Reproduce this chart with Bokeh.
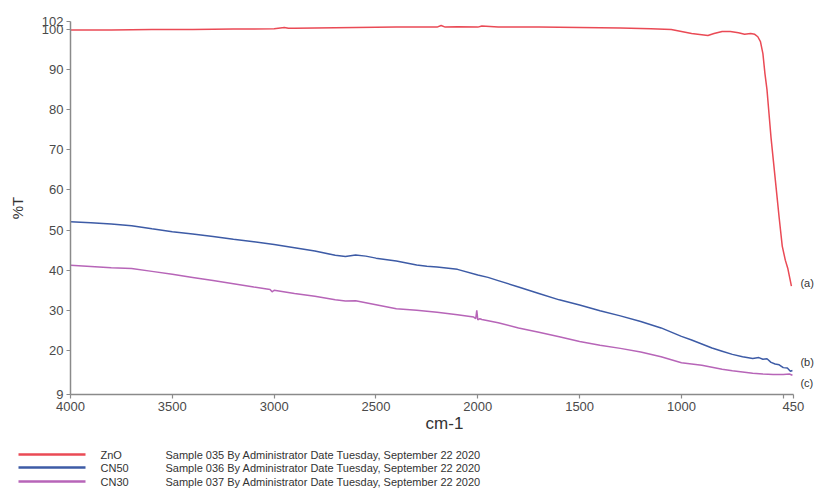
from bokeh.plotting import figure
from bokeh.models import Range1d, FixedTicker, ColumnDataSource
from bokeh.embed import file_html
from bokeh.resources import INLINE
from bokeh.core.properties import value

FONT = "Liberation Sans"

# ---------------- data ----------------
zno_x = [4000, 3800, 3600, 3400, 3200, 3000, 2950, 2930, 2900, 2800, 2600, 2400, 2200, 2180,
         2160, 2100, 2000, 1980, 1900, 1700, 1500, 1300, 1150, 1050, 1000, 950, 900, 870, 840,
         800, 760, 720, 690, 660, 640, 625, 612, 600, 590, 580, 570, 560, 548, 536, 520, 505,
         490, 478, 468, 460]
zno_y = [99.9, 99.9, 100.0, 100.0, 100.1, 100.2, 100.5, 100.3, 100.3, 100.4, 100.5, 100.6, 100.6, 101.0,
         100.6, 100.7, 100.6, 100.9, 100.6, 100.6, 100.5, 100.4, 100.2, 100.0, 99.5, 99.0, 98.7, 98.5, 99.0,
         99.5, 99.5, 99.2, 98.8, 99.0, 98.8, 98.2, 97.0, 94.0, 89.0, 85.0, 79.0, 73.0, 67.0, 61.0, 53.0, 46.0,
         42.5, 40.5, 38.0, 36.0]

cn50_x = [4000, 3900, 3800, 3700, 3600, 3500, 3400, 3300, 3200, 3100, 3000, 2900, 2800, 2700,
          2650, 2600, 2550, 2500, 2400, 2300, 2250, 2200, 2100, 2000, 1950, 1900, 1800, 1700,
          1600, 1500, 1400, 1300, 1200, 1100, 1000, 950, 900, 850, 800, 750, 700, 650, 620,
          600, 580, 560, 540, 520, 500, 480, 465, 455]
cn50_y = [52.1, 51.8, 51.5, 51.1, 50.3, 49.6, 49.0, 48.4, 47.7, 47.1, 46.4, 45.6, 44.8, 43.7,
          43.4, 43.8, 43.5, 43.0, 42.3, 41.3, 41.0, 40.8, 40.2, 38.8, 38.2, 37.4, 35.8, 34.2,
          32.6, 31.3, 29.9, 28.6, 27.2, 25.6, 23.5, 22.6, 21.6, 20.6, 19.8, 19.0, 18.4, 18.0, 18.2,
          17.8, 17.9, 17.0, 16.6, 16.4, 15.7, 15.6, 14.8, 15.0]

cn30_x = [4000, 3900, 3800, 3700, 3600, 3500, 3400, 3300, 3200, 3100, 3020, 3010, 3000, 2900,
          2800, 2700, 2650, 2600, 2500, 2400, 2300, 2200, 2100, 2020, 2010, 2005, 2000, 1990,
          1980, 1900, 1800, 1700, 1600, 1500, 1400, 1300, 1200, 1100, 1000, 950, 900, 850, 800,
          750, 700, 650, 600, 550, 500, 470, 455]
cn30_y = [41.2, 40.9, 40.6, 40.4, 39.7, 39.0, 38.2, 37.4, 36.6, 35.8, 35.2, 34.6, 35.0, 34.2,
          33.5, 32.6, 32.3, 32.4, 31.4, 30.4, 30.0, 29.5, 28.9, 28.3, 27.9, 30.0, 27.6, 27.9,
          27.7, 26.9, 25.6, 24.5, 23.4, 22.2, 21.3, 20.5, 19.6, 18.4, 16.9, 16.6, 16.3, 15.8, 15.3,
          14.9, 14.6, 14.3, 14.1, 14.0, 14.0, 14.1, 13.8]

x_ticks = [4000, 3500, 3000, 2500, 2000, 1500, 1000, 500, 450]
y_ticks = [9, 20, 30, 40, 50, 60, 70, 80, 90, 100, 102]

series_names = ["ZnO", "CN50", "CN30"]
series_desc = ["Sample 035 By Administrator Date Tuesday, September 22 2020",
               "Sample 036 By Administrator Date Tuesday, September 22 2020",
               "Sample 037 By Administrator Date Tuesday, September 22 2020"]
series_colors = ["#ea4a55", "#3d5ba6", "#b765b8"]
curve_tags = ["(a)", "(b)", "(c)"]
tag_x = [416, 416, 416]
tag_y = [36.7, 17.0, 11.8]

W = 821
# ---------------- main plot ----------------
MAIN_H = 435
p = figure(width=W, height=MAIN_H,
           x_range=Range1d(4000, 327), y_range=Range1d(9, 102),
           output_backend="svg", toolbar_location=None,
           min_border_left=70, min_border_right=3, min_border_top=21, min_border_bottom=41)
p.outline_line_color = None
p.grid.visible = False
p.background_fill_color = "white"
p.border_fill_color = "white"

for xs, ys, c in zip([zno_x, cn50_x, cn30_x], [zno_y, cn50_y, cn30_y], series_colors):
    p.line(xs, ys, line_color=c, line_width=1.5)

p.text(x=tag_x, y=tag_y, text=curve_tags, text_font=value(FONT), text_font_size="11px",
       text_baseline="middle", text_align="left", text_color="#333333")

for ax in (p.xaxis, p.yaxis):
    ax.axis_line_color = "#8a8a8a"
    ax.axis_line_width = 1.5
    ax.major_tick_line_color = "#8a8a8a"
    ax.major_tick_line_width = 1.2
    ax.major_tick_out = 4
    ax.major_tick_in = 0
    ax.minor_tick_line_color = None
    ax.major_label_text_font = FONT
    ax.major_label_text_font_size = "13px"
    ax.major_label_text_color = "#4a4a4a"
    ax.axis_label_text_font = FONT
    ax.axis_label_text_font_style = "normal"
    ax.axis_label_text_color = "#333333"

p.xaxis.ticker = FixedTicker(ticks=x_ticks)
p.xaxis.bounds = (450, 4000)
p.xaxis.major_label_overrides = {500: ""}
p.xaxis.axis_label = "cm-1"
p.xaxis.axis_label_text_font_size = "17px"
p.xaxis.major_label_standoff = 3
p.xaxis.axis_label_standoff = 0

p.yaxis.ticker = FixedTicker(ticks=y_ticks)
p.yaxis.axis_label = "%T"
p.yaxis.axis_label_text_font_size = "15px"
p.yaxis.major_label_standoff = 3
p.yaxis.axis_label_standoff = 13

# ---------------- legend strip ----------------
LH = 490 - MAIN_H
leg = figure(width=W, height=LH, x_range=Range1d(0, W), y_range=Range1d(LH, 0),
             output_backend="svg", toolbar_location=None, min_border=0,
             x_axis_type=None, y_axis_type=None)
leg.outline_line_color = None
leg.grid.visible = False
row_y = [19, 32, 46]
src = ColumnDataSource(dict(y=row_y, name=series_names, desc=series_desc, color=series_colors,
                            x0=[18] * 3, x1=[85] * 3, xn=[100] * 3, xd=[165] * 3))
leg.segment(x0="x0", x1="x1", y0="y", y1="y", line_color="color", line_width=2.5, source=src)
leg.text(x="xn", y="y", text="name", source=src, text_font=value(FONT), text_font_size="11px",
         text_baseline="middle", text_color="#333333")
leg.text(x="xd", y="y", text="desc", source=src, text_font=value(FONT), text_font_size="11px",
         text_baseline="middle", text_color="#333333")

open("out.html", "w").write(file_html([p, leg], INLINE))
